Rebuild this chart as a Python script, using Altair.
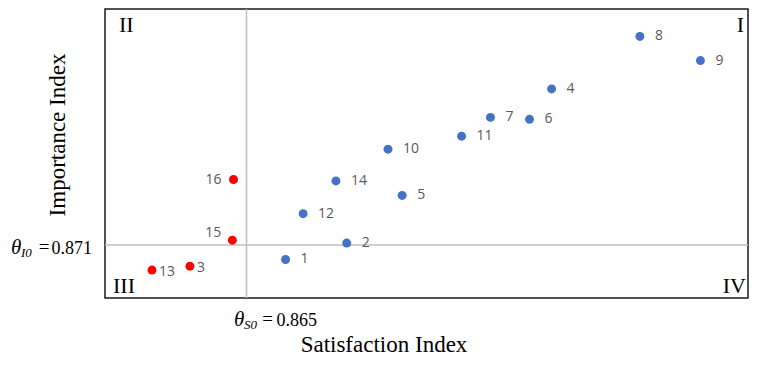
import altair as alt
import pandas as pd

# ---- data ----
IDS = list(range(1, 17))
SATISFACTION = [0.8719, 0.8827, 0.8550, 0.9189, 0.8925, 0.9150, 0.9081, 0.9345,
                0.9452, 0.8900, 0.9030, 0.8750, 0.8483, 0.8808, 0.8625, 0.8627]
IMPORTANCE = [0.8680, 0.8714, 0.8666, 0.9034, 0.8813, 0.8971, 0.8975, 0.9143,
              0.9093, 0.8909, 0.8936, 0.8775, 0.8658, 0.8843, 0.8720, 0.8846]
SAT_THRESHOLD = 0.865
IMP_THRESHOLD = 0.871
QUADRANTS = ["I", "II", "III", "IV"]
X_TITLE = "Satisfaction Index"
Y_TITLE = "Importance Index"
X_DOMAIN = [0.84, 0.9536]
Y_DOMAIN = [0.86, 0.92]

df = pd.DataFrame({"id": IDS, "satisfaction": SATISFACTION, "importance": IMPORTANCE})

xs = alt.Scale(domain=X_DOMAIN, nice=False, zero=False)
ys = alt.Scale(domain=Y_DOMAIN, nice=False, zero=False)

SERIF = "Liberation Serif"
BLUE = "#4472C4"
RED = "#FF0000"
LABEL_GREY = "#595959"

base = alt.Chart(df)

# threshold rules
vrule = alt.Chart(pd.DataFrame({"v": [SAT_THRESHOLD]})).mark_rule(
    color="#BFBFBF", strokeWidth=1.5).encode(x=alt.X("v:Q", scale=xs, axis=None))
hrule = alt.Chart(pd.DataFrame({"v": [IMP_THRESHOLD]})).mark_rule(
    color="#BFBFBF", strokeWidth=1.5).encode(y=alt.Y("v:Q", scale=ys, axis=None))

points = base.mark_circle(size=80, opacity=1).encode(
    x=alt.X("satisfaction:Q", scale=xs, axis=None),
    y=alt.Y("importance:Q", scale=ys, axis=None),
    color=alt.condition(f"datum.satisfaction < {SAT_THRESHOLD}",
                        alt.value(RED), alt.value(BLUE)),
)

CLOSE_RIGHT = [3, 13]
LEFT_UP = [15]
LEFT = [16]
special = CLOSE_RIGHT + LEFT_UP + LEFT


def labels(sel, **kw):
    return base.transform_filter(sel).mark_text(
        font="Open Sans", fontSize=14, color=LABEL_GREY, baseline="middle", **kw
    ).encode(
        x=alt.X("satisfaction:Q", scale=xs, axis=None),
        y=alt.Y("importance:Q", scale=ys, axis=None),
        text="id:N",
    )


lab_main = labels(~alt.FieldOneOfPredicate(field="id", oneOf=special), align="left", dx=15)
lab_close = labels(alt.FieldOneOfPredicate(field="id", oneOf=CLOSE_RIGHT), align="left", dx=7, dy=2)
lab_up = labels(alt.FieldOneOfPredicate(field="id", oneOf=LEFT_UP), align="right", dx=-11, dy=-7)
lab_left = labels(alt.FieldOneOfPredicate(field="id", oneOf=LEFT), align="right", dx=-12)

# quadrant numerals
corner = {
    "I": dict(x=639, y=23, align="right"),
    "II": dict(x=14, y=23, align="left"),
    "III": dict(x=8, y=284, align="left"),
    "IV": dict(x=641, y=284, align="right"),
}
quad_layers = []
for q in QUADRANTS:
    c = corner[q]
    quad_layers.append(
        alt.Chart(pd.DataFrame({"t": [q]})).mark_text(
            font=SERIF, fontSize=22, color="black", align=c["align"], baseline="alphabetic"
        ).encode(x=alt.value(c["x"]), y=alt.value(c["y"]), text="t:N")
    )

# axis titles
titles = [
    alt.Chart(pd.DataFrame({"t": [X_TITLE]})).mark_text(
        font=SERIF, fontSize=23, color="black", align="center", baseline="alphabetic"
    ).encode(x=alt.value(279), y=alt.value(343), text="t:N"),
    alt.Chart(pd.DataFrame({"t": [Y_TITLE]})).mark_text(
        font=SERIF, fontSize=23, color="black", align="center", baseline="alphabetic", angle=270
    ).encode(x=alt.value(-40), y=alt.value(126), text="t:N"),
]

# threshold equations
eq_layers = []
ydf = pd.DataFrame({"v": [IMP_THRESHOLD], "num": [f"{IMP_THRESHOLD:.3f}"]})
yc = alt.Chart(ydf)
Yenc = alt.Y("v:Q", scale=ys, axis=None)
eq_layers += [
    yc.mark_text(font=SERIF, fontSize=21, fontStyle="italic", align="left",
                 baseline="alphabetic", dy=9, text="θ").encode(x=alt.value(-94), y=Yenc),
    yc.mark_text(font=SERIF, fontSize=13, fontStyle="italic", align="left",
                 baseline="alphabetic", dy=12, text="I0").encode(x=alt.value(-84), y=Yenc),
    yc.mark_text(font=SERIF, fontSize=19, align="center",
                 baseline="alphabetic", dy=8, text="=").encode(x=alt.value(-61), y=Yenc),
    yc.mark_text(font=SERIF, fontSize=18, align="right",
                 baseline="alphabetic", dy=9).encode(x=alt.value(-13), y=Yenc, text="num:N"),
]
xdf = pd.DataFrame({"v": [SAT_THRESHOLD], "num": [f"{SAT_THRESHOLD:.3f}"]})
xc = alt.Chart(xdf)
Xenc = alt.X("v:Q", scale=xs, axis=None)
eq_layers += [
    xc.mark_text(font=SERIF, fontSize=21, fontStyle="italic", align="left",
                 baseline="alphabetic", dx=-12.5, text="θ").encode(x=Xenc, y=alt.value(317)),
    xc.mark_text(font=SERIF, fontSize=13, fontStyle="italic", align="left",
                 baseline="alphabetic", dx=-2.5, text="S0").encode(x=Xenc, y=alt.value(320)),
    xc.mark_text(font=SERIF, fontSize=19, align="center",
                 baseline="alphabetic", dx=21, text="=").encode(x=Xenc, y=alt.value(316)),
    xc.mark_text(font=SERIF, fontSize=18, align="right",
                 baseline="alphabetic", dx=70.5).encode(x=Xenc, y=alt.value(317), text="num:N"),
]

chart = alt.layer(
    vrule, hrule, points, lab_main, lab_close, lab_up, lab_left,
    *quad_layers, *titles, *eq_layers
).properties(
    width=643, height=289,
    padding={"left": 97, "top": 1, "right": 1, "bottom": 59},
    autosize=alt.AutoSizeParams(type="none"),
    background="white",
).configure_view(stroke="#1a1a1a", strokeWidth=1.5)

chart.save("out.html", embed_options={"renderer": "svg", "actions": False})
